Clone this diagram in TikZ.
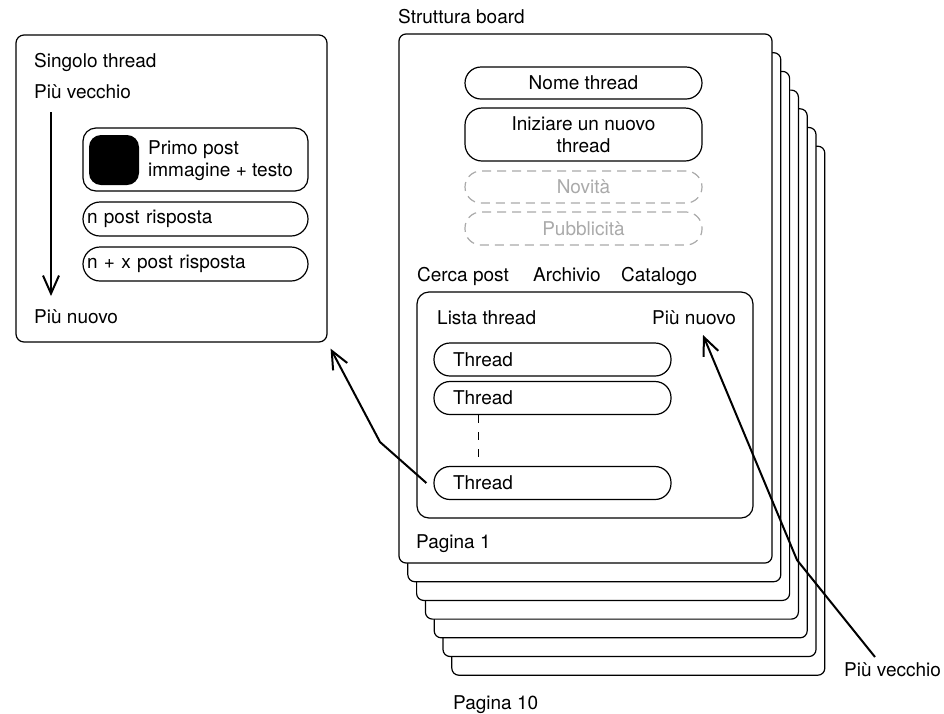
\documentclass[tikz,border=0pt]{standalone}
\usepackage{fontspec}
\setmainfont{TeX Gyre Heros}
\usetikzlibrary{positioning,arrows.meta}
\definecolor{faded}{RGB}{170,170,170}

\begin{document}
\begin{tikzpicture}[x=1pt,y=-1pt]
	\tikzset{every node/.style = {font=\fontsize{19}{22}\selectfont, inner sep=0pt}}
	\tikzset{box/.style = {draw, line width=1.2pt, rounded corners=8pt, fill=white}}
	\tikzset{pill/.style = {draw, line width=1.2pt, rounded corners=16pt, minimum width=237pt, minimum height=32pt}}
	\tikzset{reply/.style = {pill, rounded corners=17pt, minimum width=225pt, minimum height=34pt, text width=217pt, inner xsep=4pt, align=left}}
	\tikzset{ghost/.style = {pill, draw=faded, text=faded, dash pattern=on 9pt off 6pt}}
	\tikzset{func/.style = {line width=2pt, -{Straight Barb[length=18pt,width=16pt]}}}
	\tikzset{lbl/.style = {anchor=base west}}

	\useasboundingbox (0,0) rectangle (944,713);

	% single thread
	\node[box, minimum width=311pt, minimum height=307pt] (single) at (171.5,188.5) {};
	\node[lbl] (singlettl) at (34,67.5) {Singolo thread};
	\node[lbl] (oldA) at (34,98.5) {Più vecchio};
	\node[lbl] (newA) at (34,323.5) {Più nuovo};
	\draw[func] ([shift={(17,13.5)}]oldA.base west) -- ([shift={(17,-27.5)}]newA.base west);

	\node[box, rounded corners=13pt, minimum width=225pt, minimum height=63pt] (first) at (195.5,159.5) {};
	\node[fill, rounded corners=12pt, minimum size=50pt] (img) at (114,160) {};
	\node[anchor=west, align=left] (firsttxt) at (148,161) {Primo post\\immagine + testo};
	\node[reply] (reply1) at (195.5,219) {n post risposta};
	\node[reply] (reply2) at (195.5,264) {n + x post risposta};

	% pages of the board
	\foreach \i in {6,5,...,1}
		\draw[box, rounded corners=7pt] (399+8.8*\i, 34+18.7*\i) rectangle (772+8.8*\i, 563+18.7*\i);
	\node[box, rounded corners=7pt, minimum width=373pt, minimum height=529pt] (page1) at (585.5,298.5) {};
	\node[lbl] (boardttl) at (398,23.5) {Struttura board};

	\node[pill] (name) at (583.5,83) {Nome thread};
	\node[pill, rounded corners=17pt, minimum height=53pt, align=center] (newthr) at (583.5,134.5) {Iniziare un nuovo\\thread};
	\node[ghost] (news) at (583.5,187) {Novità};
	\node[ghost, minimum height=33pt] (ads) at (583.5,228.5) {Pubblicità};

	\node[lbl] (search) at (417,281.5) {Cerca post};
	\node[lbl] (archive) at (533,281.5) {Archivio};
	\node[lbl] (catalog) at (621,281.5) {Catalogo};

	% thread list
	\node[box, rounded corners=12pt, minimum width=336pt, minimum height=226pt] (list) at (585,405) {};
	\node[lbl] (listttl) at (437,324.5) {Lista thread};
	\node[lbl] (newB) at (652,324.5) {Più nuovo};
	\node[pill, minimum height=33pt, text width=199pt, inner xsep=19pt] (thr1) at (552.5,359.5) {Thread};
	\node[pill, minimum height=33pt, text width=199pt, inner xsep=19pt] (thr2) at (552.5,398) {Thread};
	\node[pill, minimum height=33pt, text width=199pt, inner xsep=19pt] (thr3) at (552.5,483) {Thread};
	\draw[line width=1.2pt, dash pattern=on 8pt off 9pt] ([xshift=45]thr2.south west) -- ([xshift=45]thr3.north west);

	\node[lbl] (pg1) at (416,548.5) {Pagina 1};
	\node[lbl] (pg10) at (453,709.5) {Pagina 10};
	\node[lbl] (oldB) at (844,676.5) {Più vecchio};

	% arrows
	\coordinate (bendL) at (380,442);
	\draw[func] ([xshift=-7]thr3.west) -- (bendL) -- ([shift={(3,6)}]single.south east);
	\coordinate (bendR) at (797,560);
	\draw[func] ([shift={(31,-19.5)}]oldB.base west) -- (bendR) -- ([shift={(51,10.5)}]newB.base west);
\end{tikzpicture}
\end{document}
